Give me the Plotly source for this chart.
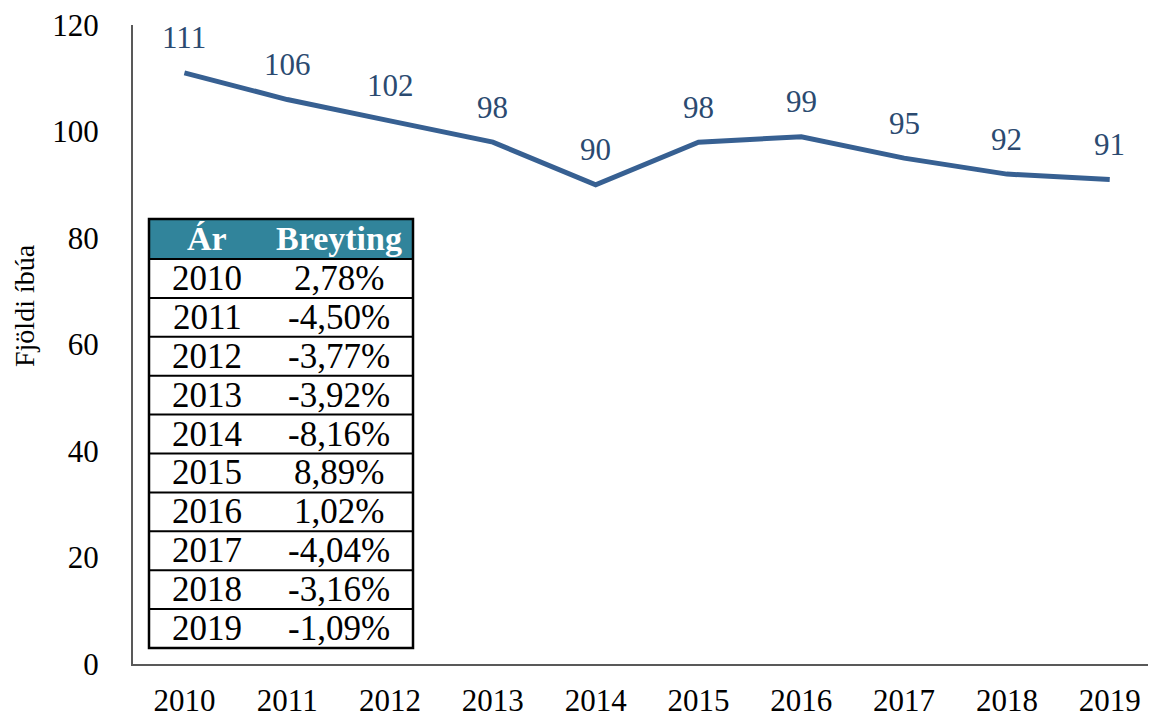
import plotly.graph_objects as go

years = ["2010", "2011", "2012", "2013", "2014", "2015", "2016", "2017", "2018", "2019"]
residents = [111, 106, 102, 98, 90, 98, 99, 95, 92, 91]
change_pct = ["2,78%", "-4,50%", "-3,77%", "-3,92%", "-8,16%", "8,89%", "1,02%", "-4,04%", "-3,16%", "-1,09%"]
y_ticks = [0, 20, 40, 60, 80, 100, 120]
table_header = ["Ár", "Breyting"]
y_title = "Fjöldi íbúa"

FONT = "Liberation Serif"
LINE_COLOR = "#376092"
LABEL_COLOR = "#2B4A70"
HEAD_COLOR = "#31849B"

OFF = 8  # page body margin
W, H = 1156 - OFF, 717 - OFF
L, T = 133 - OFF, 25 - OFF
R, B = 0, H - (664 - OFF)
PW, PH = W - L - R, H - T - B


def px(x):
    return (x - OFF - L) / PW


def py(y):
    return (H - B - (y - OFF)) / PH


fig = go.Figure()
fig.add_trace(go.Scatter(
    x=years, y=residents, mode="lines",
    line=dict(color=LINE_COLOR, width=5),
    hoverinfo="x+y", showlegend=False,
))

annotations = []
for i, v in enumerate(residents):
    annotations.append(dict(
        x=i, y=v, xref="x", yref="y", text=str(v), showarrow=False,
        xanchor="center", yanchor="middle",
        yshift=35, font=dict(family=FONT, size=31, color=LABEL_COLOR),
    ))

annotations.append(dict(
    x=px(24), y=py(306), xref="paper", yref="paper", text=y_title,
    showarrow=False, textangle=-90, xanchor="center", yanchor="middle",
    font=dict(family=FONT, size=28, color="black"),
))

# table
tl, tr, tt, hb, tb = 149, 413, 219, 259, 648
nrows = len(years)
rh = (tb - hb) / nrows
col_x = [207, 339]
shapes = [
    dict(type="rect", xref="paper", yref="paper", x0=px(tl), x1=px(tr), y0=py(hb), y1=py(tt),
         fillcolor=HEAD_COLOR, line=dict(width=0), layer="above"),
]
for i, h in enumerate(table_header):
    annotations.append(dict(
        x=px(col_x[i]), y=py((tt + hb) / 2), xref="paper", yref="paper", text="<b>" + h + "</b>",
        showarrow=False, xanchor="center", yanchor="middle",
        font=dict(family=FONT, size=34, color="white"),
    ))
for r in range(nrows):
    yc = hb + rh * (r + 0.5)
    annotations.append(dict(
        x=px(col_x[0]), y=py(yc), xref="paper", yref="paper", text=years[r],
        showarrow=False, xanchor="center", yanchor="middle",
        font=dict(family=FONT, size=35, color="black"),
    ))
    annotations.append(dict(
        x=px(col_x[1]), y=py(yc), xref="paper", yref="paper", text=change_pct[r],
        showarrow=False, xanchor="center", yanchor="middle",
        font=dict(family=FONT, size=35, color="black"),
    ))
    shapes.append(dict(
        type="line", xref="paper", yref="paper", x0=px(tl), x1=px(tr),
        y0=py(hb + rh * r), y1=py(hb + rh * r), line=dict(color="black", width=2), layer="above",
    ))
shapes.append(dict(type="rect", xref="paper", yref="paper", x0=px(tl), x1=px(tr), y0=py(tb), y1=py(tt),
                   line=dict(color="black", width=2.5), layer="above"))

fig.update_layout(
    width=W, height=H,
    margin=dict(l=L, r=R, t=T, b=B, autoexpand=False),
    paper_bgcolor="white", plot_bgcolor="white",
    font=dict(family=FONT, size=31, color="black"),
    xaxis=dict(
        type="category", range=[-0.5, 9.45], showgrid=False, zeroline=False,
        showline=True, linecolor="#595959", linewidth=2, ticks="",
        ticklabelstandoff=8, tickfont=dict(family=FONT, size=31, color="black"),
        fixedrange=True, automargin=False, ticklabeloverflow="allow",
    ),
    yaxis=dict(
        range=[0, 120], tickvals=y_ticks, showgrid=False, zeroline=False,
        showline=True, linecolor="#595959", linewidth=2, ticks="",
        ticklabelstandoff=26, tickfont=dict(family=FONT, size=31, color="black"),
        fixedrange=True, automargin=False, ticklabeloverflow="allow",
    ),
    annotations=annotations,
    shapes=shapes,
    showlegend=False,
)

fig.write_html("out.html")
